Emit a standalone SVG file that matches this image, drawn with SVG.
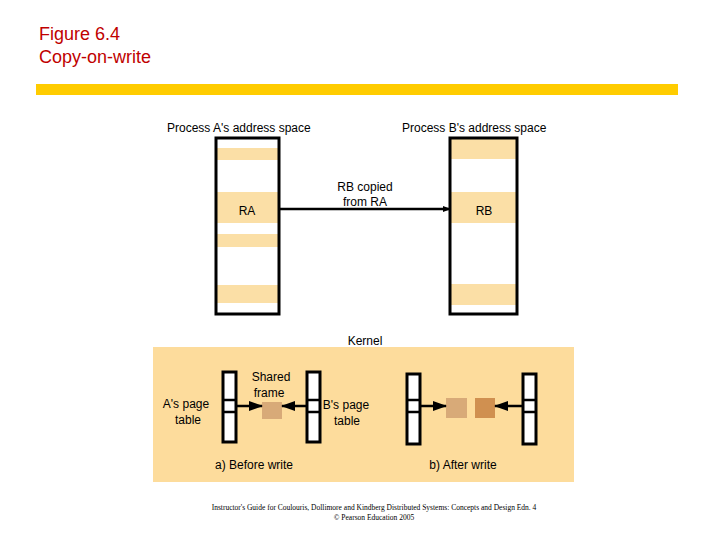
<svg xmlns="http://www.w3.org/2000/svg" width="720" height="540" viewBox="0 0 720 540">
<style>
text{font-family:"Liberation Sans",Arial,sans-serif;font-size:12px;fill:#000}
.t{font-size:18px;fill:#c00000}
.band{fill:#fbdfa6}
.box{fill:none;stroke:#000;stroke-width:3}
.pt{fill:#fff;stroke:#000;stroke-width:3}
.ln{stroke:#000;stroke-width:2.5;fill:none}
</style>
<defs><marker id="ah" markerWidth="8" markerHeight="6" refX="7" refY="3" orient="auto" markerUnits="userSpaceOnUse"><path d="M0,0L8,3L0,6z" fill="#000"/></marker>
<marker id="ah2" markerWidth="14" markerHeight="10" refX="13" refY="5" orient="auto" markerUnits="userSpaceOnUse"><path d="M0,0L14,5L0,10z" fill="#000"/></marker></defs>
<rect width="720" height="540" fill="#fff"/>
<text class="t" x="39" y="40">Figure 6.4</text>
<text class="t" x="39" y="63">Copy-on-write</text>
<rect x="36" y="84" width="642" height="11" fill="#ffcc00"/>
<g id="procA">
<text x="167" y="132">Process A's address space</text>
<rect class="band" x="216" y="148" width="63" height="12"/>
<rect class="band" x="216" y="192" width="63" height="31"/>
<rect class="band" x="216" y="234" width="63" height="13"/>
<rect class="band" x="216" y="285" width="63" height="18"/>
<rect class="box" x="216" y="138" width="63" height="176"/>
<text x="247" y="215" text-anchor="middle">RA</text>
</g>
<g id="procB">
<text x="402" y="132">Process B's address space</text>
<rect class="band" x="450" y="139" width="67" height="20"/>
<rect class="band" x="450" y="192" width="67" height="31"/>
<rect class="band" x="450" y="284" width="67" height="21"/>
<rect class="box" x="450" y="138" width="67" height="176"/>
<text x="484" y="215" text-anchor="middle">RB</text>
</g>
<g id="kernel">
<text x="365" y="345" text-anchor="middle">Kernel</text>
<rect x="153" y="347" width="421" height="135" fill="#fddc9c"/>
<text x="186" y="408" text-anchor="middle">A's page</text><text x="188" y="424" text-anchor="middle">table</text>
<text x="271" y="381" text-anchor="middle">Shared</text><text x="269" y="397" text-anchor="middle">frame</text>
<text x="346" y="409" text-anchor="middle">B's page</text><text x="347" y="425" text-anchor="middle">table</text>
<text x="254" y="469" text-anchor="middle">a) Before write</text>
<text x="463" y="469" text-anchor="middle">b) After write</text>
</g>
<g id="tables">
<rect class="pt" x="223" y="372" width="13" height="70"/><line class="ln" x1="223" y1="400" x2="236" y2="400"/><line class="ln" x1="223" y1="412" x2="236" y2="412"/>
<rect class="pt" x="307" y="372" width="13" height="70"/><line class="ln" x1="307" y1="400" x2="320" y2="400"/><line class="ln" x1="307" y1="412" x2="320" y2="412"/>
<rect class="pt" x="407" y="374" width="13" height="70"/><line class="ln" x1="407" y1="400" x2="420" y2="400"/><line class="ln" x1="407" y1="412" x2="420" y2="412"/>
<rect class="pt" x="523" y="374" width="13" height="70"/><line class="ln" x1="523" y1="400" x2="536" y2="400"/><line class="ln" x1="523" y1="412" x2="536" y2="412"/>
<rect x="262" y="402" width="20" height="17" fill="#d8aa78"/>
<rect x="446" y="398" width="21" height="20" fill="#d8aa78"/>
<rect x="475" y="398" width="20" height="20" fill="#d09050"/>
</g>
<g id="connectors">
<line class="ln" x1="279" y1="209" x2="450" y2="209" marker-end="url(#ah)"/>
<text x="365" y="191" text-anchor="middle">RB copied</text><text x="365" y="206" text-anchor="middle">from RA</text>
<line class="ln" x1="236" y1="406" x2="262" y2="406" marker-end="url(#ah2)"/>
<line class="ln" x1="307" y1="406" x2="282" y2="406" marker-end="url(#ah2)"/>
<line class="ln" x1="420" y1="406" x2="446" y2="406" marker-end="url(#ah2)"/>
<line class="ln" x1="523" y1="406" x2="495" y2="406" marker-end="url(#ah2)"/>
</g>
<text x="374" y="510" text-anchor="middle" style="font-family:'Liberation Serif',serif;font-size:7.5px">Instructor's Guide for  Coulouris, Dollimore and Kindberg   Distributed Systems: Concepts and Design   Edn. 4</text>
<text x="374" y="520" text-anchor="middle" style="font-family:'Liberation Serif',serif;font-size:7.5px">©  Pearson Education 2005</text>
</svg>
